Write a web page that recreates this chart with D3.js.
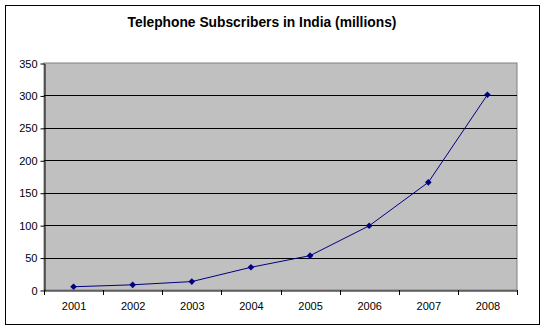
<!DOCTYPE html>
<html><head><meta charset="utf-8">
<script src="https://cdn.jsdelivr.net/npm/d3@7"></script>
<style>body{margin:0;background:#fff;}svg{display:block;}</style>
</head><body>
<script>
const categories = ["2001","2002","2003","2004","2005","2006","2007","2008"];
const subscribers = [5, 8, 13, 35, 53, 99, 166, 301];
const yTicks = [0, 50, 100, 150, 200, 250, 300, 350];
const title = "Telephone Subscribers in India (millions)";

const W = 545, H = 331;
const m = {left: 44, right: 28, top: 63, bottom: 41};
const svg = d3.select("body").append("svg").attr("width", W).attr("height", H);

svg.append("rect").attr("x", 5.5).attr("y", 5.5).attr("width", 534).attr("height", 319)
  .attr("fill", "#fff").attr("stroke", "#000").attr("stroke-width", 1);

svg.append("text").attr("x", 262).attr("y", 27).attr("text-anchor", "middle")
  .attr("font-family", "Arial, 'Liberation Sans', sans-serif").attr("font-weight", "bold")
  .attr("font-size", 13.8).text(title);

const x = d3.scaleBand().domain(categories).range([m.left, W - m.right]);
const y = d3.scaleLinear().domain([0, 350]).range([H - m.bottom, m.top]);

svg.append("rect").attr("x", m.left).attr("y", m.top)
  .attr("width", W - m.left - m.right).attr("height", H - m.top - m.bottom)
  .attr("fill", "#c0c0c0").attr("stroke", "#808080");

svg.append("g").selectAll("line").data(yTicks.filter(d => d > 0 && d < 350)).join("line")
  .attr("x1", m.left).attr("x2", W - m.right)
  .attr("y1", d => Math.round(y(d)) + 0.5).attr("y2", d => Math.round(y(d)) + 0.5)
  .attr("stroke", "#000");

const yAxis = svg.append("g").attr("transform", `translate(${m.left + 0.5},0.5)`)
  .call(d3.axisLeft(y).tickValues(yTicks).tickSize(4).tickSizeOuter(0).tickPadding(3));
const xAxis = svg.append("g").attr("transform", `translate(0.5,${H - m.bottom + 0.5})`)
  .call(d3.axisBottom(x).tickSize(0).tickPadding(12));
// category boundary ticks
svg.append("g").selectAll("line").data(d3.range(categories.length + 1)).join("line")
  .attr("x1", i => Math.round(m.left + i * x.step()) + 0.5)
  .attr("x2", i => Math.round(m.left + i * x.step()) + 0.5)
  .attr("y1", H - m.bottom).attr("y2", H - m.bottom + 5).attr("stroke", "#000");

[yAxis, xAxis].forEach(g => {
  g.selectAll("path,line").attr("stroke", "#000");
  g.selectAll("text").attr("font-family", "Arial, 'Liberation Sans', sans-serif")
    .attr("font-size", 11).attr("fill", "#000");
});

const cx = d => x(d) + x.bandwidth() / 2;
const line = d3.line().x((d, i) => cx(categories[i])).y(d => y(d));
svg.append("path").datum(subscribers).attr("d", line)
  .attr("fill", "none").attr("stroke", "#000080").attr("stroke-width", 1);

svg.append("g").selectAll("path").data(subscribers).join("path")
  .attr("transform", (d, i) => `translate(${cx(categories[i])},${y(d)})`)
  .attr("d", d3.symbol(d3.symbolDiamond2, 28)).attr("fill", "#000080");
</script>
</body></html>
